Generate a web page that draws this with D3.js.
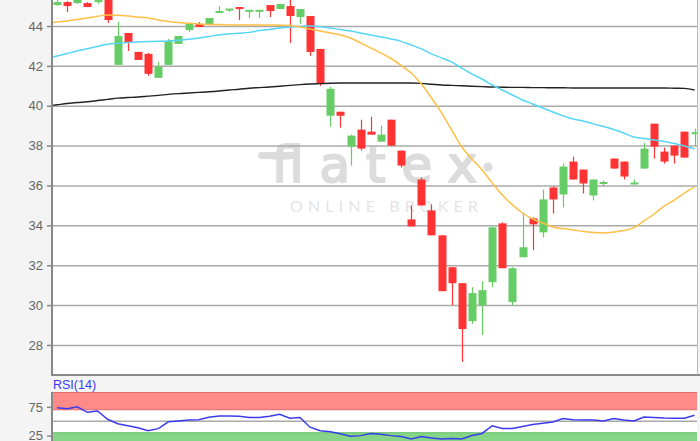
<!DOCTYPE html>
<html><head><meta charset="utf-8">
<script src="https://cdn.jsdelivr.net/npm/d3@7"></script>
<style>html,body{margin:0;padding:0;background:#f4f4f4;overflow:hidden}</style>
</head><body><svg id="c" width="700" height="441"></svg>
<script>
// ---- data ----
const openP  = [45.05,45.2,45.15,45.15,45.2,45.6,42.05,43.65,42.7,42.6,41.4,42.05,43.1,43.8,44.1,44.1,44.65,44.8,44.95,44.72,44.72,45.05,44.85,45.0,44.45,44.5,42.85,39.5,39.7,37.95,38.8,38.7,38.2,39.3,37.75,34.3,36.3,34.75,33.5,31.9,31.1,29.2,30.0,31.15,34.1,30.15,32.4,34.35,33.65,35.9,35.55,37.2,36.8,35.5,36.1,37.35,37.2,36.05,36.85,39.1,37.7,38.0,38.7,38.6];
const highP  = [45.35,45.25,45.4,45.2,45.45,45.8,44.2,43.65,42.7,42.65,42.2,43.35,43.5,44.1,44.2,44.4,45.0,44.85,44.95,44.8,44.8,45.05,45.1,45.4,44.85,44.5,42.85,40.95,39.7,38.55,39.3,39.45,39.0,39.3,37.75,35.0,36.4,35.05,33.5,31.9,31.1,30.9,31.2,33.95,34.15,31.9,34.6,34.4,35.8,35.95,37.1,37.45,36.8,36.3,36.25,37.35,37.2,36.3,38.15,39.1,37.9,38.0,38.7,38.85];
const lowP   = [45.0,44.7,45.1,44.95,45.1,44.15,42.05,42.75,42.3,41.5,41.4,42.05,43.1,43.7,43.95,44.1,44.65,44.7,44.3,44.4,44.4,44.45,44.85,43.15,44.1,42.5,41.0,38.95,38.9,37.0,37.75,38.55,38.2,38.0,36.9,33.95,35.0,33.5,30.7,30.0,27.15,29.05,28.5,30.9,31.85,30.0,32.4,32.75,33.4,34.6,34.9,36.3,35.6,35.25,35.95,36.85,36.3,36.05,36.85,37.35,37.1,37.1,37.4,38.0];
const closeP = [45.2,45.0,45.35,44.95,45.3,44.3,43.5,43.15,42.3,41.6,41.95,43.25,43.5,44.1,43.95,44.4,44.75,44.85,44.85,44.8,44.8,44.75,45.1,44.5,44.85,42.7,41.1,40.85,39.5,38.5,37.85,38.55,38.55,38.0,37.0,33.95,35.0,33.5,30.7,31.1,28.8,30.6,30.75,33.9,31.85,31.85,32.9,34.05,35.3,35.3,36.95,36.3,36.1,36.3,36.15,36.85,36.45,36.15,37.85,37.95,37.2,37.5,37.4,38.65];
// moving averages: first value belongs to the session before the first visible candle
const maStart = -1;
const ma20  = [44.12,44.2,44.25,44.33,44.4,44.49,44.55,44.54,44.5,44.45,44.4,44.3,44.23,44.18,44.14,44.1,44.08,44.07,44.05,44.05,44.05,44.05,44.05,44.04,44.03,43.95,43.85,43.75,43.65,43.55,43.4,43.15,42.9,42.65,42.37,42.02,41.64,41.09,40.39,39.64,38.78,37.93,37.33,36.78,36.13,35.52,35.03,34.62,34.32,34.12,33.92,33.84,33.77,33.69,33.64,33.62,33.67,33.74,33.89,34.22,34.57,34.97,35.27,35.62,35.93];
const ma50  = [42.40,42.5,42.62,42.75,42.86,42.97,43.09,43.13,43.17,43.2,43.22,43.23,43.25,43.29,43.33,43.4,43.47,43.55,43.6,43.64,43.68,43.77,43.83,43.9,43.95,43.98,44.0,43.96,43.9,43.82,43.75,43.65,43.55,43.45,43.35,43.23,43.05,42.85,42.6,42.4,42.19,41.89,41.59,41.34,41.04,40.79,40.54,40.29,40.09,39.89,39.69,39.49,39.34,39.24,39.09,38.96,38.81,38.63,38.43,38.36,38.28,38.21,38.11,37.98,37.83];
const ma200 = [39.99,40.05,40.11,40.16,40.2,40.26,40.32,40.38,40.41,40.44,40.48,40.52,40.57,40.61,40.64,40.67,40.7,40.74,40.79,40.83,40.88,40.91,40.94,40.98,41.02,41.06,41.09,41.11,41.13,41.14,41.14,41.14,41.14,41.14,41.14,41.14,41.14,41.12,41.08,41.04,41.02,41.0,40.98,40.96,40.94,40.93,40.92,40.92,40.91,40.91,40.9,40.9,40.89,40.89,40.89,40.89,40.89,40.89,40.89,40.89,40.89,40.89,40.88,40.87,40.79];
const rsi14 = [73.3,71.6,75,65.5,67.8,53.4,45.7,42.2,38.8,33.6,37.1,49.1,50.5,52.2,52.6,56.9,59.1,59.1,58.6,56.4,56.4,58.6,62.1,55.2,56.4,39.7,33.6,31.6,28.4,24.1,25,28.8,27.2,25,23.3,19,23.6,20.7,19,20.2,19,25.3,28.8,42.2,37.4,37.4,40.9,44.3,46.6,48.8,54.7,52.6,52.2,52.2,50.5,54.7,52.2,50.5,57.4,56.6,55.7,55.2,55.2,60.3];
const priceTicks = [28,30,32,34,36,38,40,42,44];
const rsiTicks = [25,75];
const rsiBandHigh = [70,100];
const rsiBandLow = [0,30];
const rsiMid = 50;
const rsiLabel = "RSI(14)";

// ---- drawing ----
const svg = d3.select("#c");
const W = 700, H = 441;
const L = 52, R = 697, T = 0, B = 375;
const rT = 392, rB = 441;
const n = openP.length;

const x = d3.scaleLinear().domain([-0.5, 63.24]).range([L, R]);
const y = d3.scaleLinear().domain([26.495, 45.304]).range([B, T]);
const yr = d3.scaleLinear().domain([0, 100]).range([450, 392.5]);

svg.append("rect").attr("width", W).attr("height", H).attr("fill", "#f4f4f4");
svg.append("rect").attr("x", L).attr("y", T).attr("width", R - L).attr("height", B - T).attr("fill", "#fff");

const defs = svg.append("defs");
defs.append("clipPath").attr("id", "mainClip").append("rect").attr("x", L).attr("y", T).attr("width", R - L).attr("height", B - T);
defs.append("clipPath").attr("id", "rsiClip").append("rect").attr("x", L).attr("y", rT).attr("width", R - L).attr("height", rB - rT);

// watermark
const wmCol = "#dcdcdc";
const wm = svg.append("g").attr("clip-path", "url(#mainClip)");
wm.append("rect").attr("x", 258).attr("y", 152).attr("width", 42).attr("height", 7).attr("rx", 3.5).attr("fill", wmCol);
wm.append("text").attr("x", 272).attr("y", 182).attr("font-family", "'DejaVu Sans', sans-serif").attr("font-weight", 400)
  .attr("font-size", 50).attr("fill", wmCol).attr("stroke", wmCol).attr("stroke-width", 2.2).attr("stroke-linejoin", "round")
  .attr("textLength", 205).attr("lengthAdjust", "spacing").text("flatex");
wm.append("circle").attr("cx", 488).attr("cy", 167).attr("r", 4.5).attr("fill", wmCol);
wm.append("text").attr("x", 290).attr("y", 212).attr("font-family", "Lato, 'Open Sans', sans-serif").attr("font-weight", 400)
  .attr("font-size", 16).attr("fill", "#e4e4e4").attr("textLength", 188).attr("lengthAdjust", "spacing").text("ONLINE BROKER");

// y axis + grid
const yAxis = d3.axisLeft(y).tickValues(priceTicks).tickSize(5).tickPadding(4).tickFormat(d3.format("d"));
const gy = svg.append("g").attr("transform", `translate(${L},0)`).call(yAxis);
gy.select(".domain").remove();
gy.selectAll(".tick line").attr("stroke", "#888").attr("stroke-width", 1.5);
gy.selectAll(".tick text").attr("fill", "#666").attr("font-size", 13).attr("font-family", "Liberation Sans, Arial, sans-serif");
const grid = d3.axisLeft(y).tickValues(priceTicks).tickSize(-(R - L)).tickFormat("");
const gg = svg.append("g").attr("transform", `translate(${L},0)`).call(grid);
gg.select(".domain").remove();
gg.selectAll(".tick line").attr("stroke", "#aaa").attr("stroke-width", 1.5);

// candles
const cg = svg.append("g").attr("clip-path", "url(#mainClip)");
const idx = d3.range(n);
const col = i => closeP[i] >= openP[i] ? "#66cc66" : "#ff3333";
cg.selectAll("line.w").data(idx).join("line").attr("class", "w")
  .attr("x1", i => Math.round(x(i)) + 0.5).attr("x2", i => Math.round(x(i)) + 0.5)
  .attr("y1", i => y(highP[i])).attr("y2", i => y(lowP[i]))
  .attr("stroke", col).attr("stroke-width", 1.2);
cg.selectAll("rect.b").data(idx).join("rect").attr("class", "b")
  .attr("x", i => Math.round(x(i)) - 3.5).attr("width", 8)
  .attr("y", i => { const t = y(Math.max(openP[i], closeP[i])), b = y(Math.min(openP[i], closeP[i])); return b - t < 2 ? (t + b) / 2 - 1 : t; })
  .attr("height", i => Math.max(2, Math.abs(y(openP[i]) - y(closeP[i]))))
  .attr("fill", col);

// moving averages
const maLine = d3.line().x((d, i) => x(i + maStart)).y(d => y(d)).curve(d3.curveMonotoneX);
const lg = svg.append("g").attr("clip-path", "url(#mainClip)").attr("fill", "none");
lg.append("path").datum(ma200).attr("d", maLine).attr("stroke", "#222").attr("stroke-width", 1.4);
lg.append("path").datum(ma50).attr("d", maLine).attr("stroke", "#55d6f8").attr("stroke-width", 1.5);
lg.append("path").datum(ma20).attr("d", maLine).attr("stroke", "#ffbf45").attr("stroke-width", 1.5);

// main frame
svg.append("line").attr("x1", L).attr("x2", L).attr("y1", T).attr("y2", B + 1).attr("stroke", "#888").attr("stroke-width", 2);
svg.append("line").attr("x1", L).attr("x2", 700).attr("y1", B).attr("y2", B).attr("stroke", "#888").attr("stroke-width", 2);
svg.append("line").attr("x1", R + 0.5).attr("x2", R + 0.5).attr("y1", T).attr("y2", B).attr("stroke", "#bbb").attr("stroke-width", 1);

// RSI panel
svg.append("text").attr("x", 53).attr("y", 389).attr("fill", "#3a3aff").attr("font-size", 12.5)
  .attr("font-family", "Liberation Sans, Arial, sans-serif").text(rsiLabel);
const rg = svg.append("g").attr("clip-path", "url(#rsiClip)");
rg.append("rect").attr("x", L).attr("width", R - L).attr("y", rT).attr("height", rB - rT).attr("fill", "#fff");
rg.append("rect").attr("x", L).attr("width", R - L + 5).attr("y", yr(rsiBandHigh[1])).attr("height", yr(rsiBandHigh[0]) - yr(rsiBandHigh[1]))
  .attr("fill", "#ff8a8a").attr("stroke", "#e06a6a").attr("stroke-width", 1);
rg.append("rect").attr("x", L).attr("width", R - L + 5).attr("y", yr(rsiBandLow[1])).attr("height", yr(rsiBandLow[0]) - yr(rsiBandLow[1]))
  .attr("fill", "#86d486").attr("stroke", "#66bb66").attr("stroke-width", 1);
rg.append("line").attr("x1", L).attr("x2", 700).attr("y1", yr(rsiMid)).attr("y2", yr(rsiMid)).attr("stroke", "#aaa").attr("stroke-width", 1.5);
const rsiLine = d3.line().x((d, i) => x(i)).y(d => yr(d));
rg.append("path").datum(rsi14).attr("d", rsiLine).attr("fill", "none").attr("stroke", "#3b3bee").attr("stroke-width", 1.5);

const rAxis = d3.axisLeft(yr).tickValues(rsiTicks).tickSize(5).tickPadding(4);
const ra = svg.append("g").attr("transform", `translate(${L},0)`).call(rAxis);
ra.select(".domain").remove();
ra.selectAll(".tick line").attr("stroke", "#888").attr("stroke-width", 1.5);
ra.selectAll(".tick text").attr("fill", "#666").attr("font-size", 13).attr("font-family", "Liberation Sans, Arial, sans-serif");
svg.append("line").attr("x1", L).attr("x2", L).attr("y1", rT).attr("y2", rB).attr("stroke", "#888").attr("stroke-width", 2);
</script></body></html>
